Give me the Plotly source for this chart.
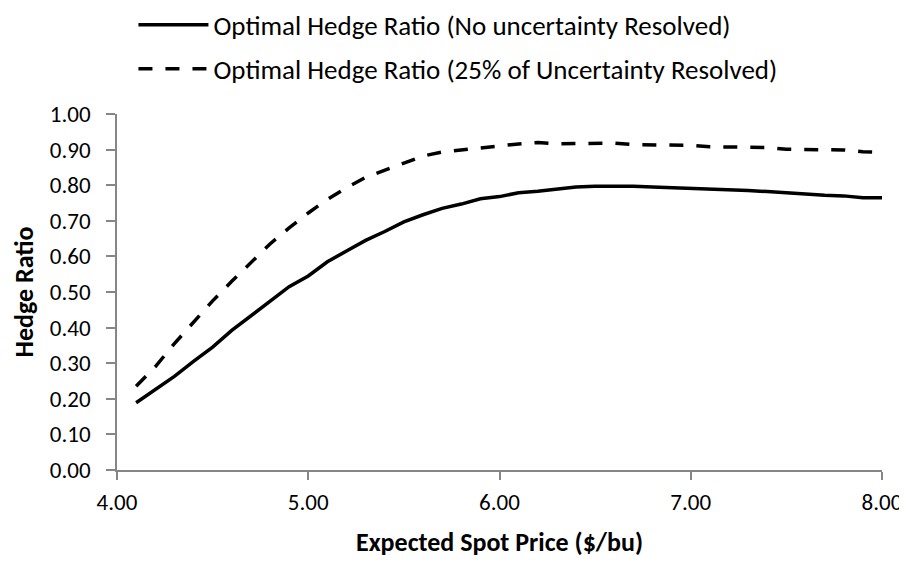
import plotly.graph_objects as go

# Expected spot price ($/bu)
price = [4.1, 4.2, 4.3, 4.4, 4.5, 4.6, 4.7, 4.8, 4.9, 5.0,
         5.1, 5.2, 5.3, 5.4, 5.5, 5.6, 5.7, 5.8, 5.9, 6.0,
         6.1, 6.2, 6.3, 6.4, 6.5, 6.6, 6.7, 6.8, 6.9, 7.0,
         7.1, 7.2, 7.3, 7.4, 7.5, 7.6, 7.7, 7.8, 7.9, 8.0]

# Optimal hedge ratio, no uncertainty resolved
hr_none = [0.189, 0.225, 0.263, 0.305, 0.345, 0.392, 0.432, 0.475, 0.515, 0.545,
           0.585, 0.615, 0.645, 0.670, 0.697, 0.717, 0.735, 0.747, 0.762, 0.768,
           0.779, 0.783, 0.790, 0.795, 0.797, 0.798, 0.797, 0.795, 0.793, 0.793,
           0.790, 0.788, 0.785, 0.782, 0.778, 0.776, 0.772, 0.770, 0.765, 0.765]

# Optimal hedge ratio, 25% of uncertainty resolved
hr_25 = [0.235, 0.290, 0.355, 0.415, 0.475, 0.530, 0.583, 0.635, 0.680, 0.722,
         0.760, 0.793, 0.822, 0.842, 0.863, 0.882, 0.893, 0.899, 0.905, 0.912,
         0.916, 0.920, 0.916, 0.917, 0.918, 0.918, 0.914, 0.913, 0.913, 0.912,
         0.908, 0.907, 0.907, 0.906, 0.901, 0.900, 0.900, 0.899, 0.894, 0.892]

x_ticks = [4, 5, 6, 7, 8]
x_tick_labels = ["4.00", "5.00", "6.00", "7.00", "8.00"]
y_ticks = [0.0, 0.1, 0.2, 0.3, 0.4, 0.5, 0.6, 0.7, 0.8, 0.9, 1.0]
y_tick_labels = ["0.00", "0.10", "0.20", "0.30", "0.40", "0.50", "0.60", "0.70", "0.80", "0.90", "1.00"]

FONT = "Calibri, Carlito, Lato, sans-serif"
AXIS_COLOR = "#868686"

fig = go.Figure()
fig.add_trace(go.Scatter(
    x=price, y=hr_none, mode="lines",
    name="Optimal Hedge Ratio (No uncertainty Resolved)",
    legendgroup="a",
    line=dict(color="black", width=3.5),
))
fig.add_trace(go.Scatter(
    x=price, y=hr_25, mode="lines",
    name="Optimal Hedge Ratio (25% of Uncertainty Resolved)",
    legendgroup="b",
    line=dict(color="black", width=3.5, dash="14px,13px"),
))

# The page body has an 8px margin, so the figure is sized to fill the rest of the window.
fig.update_layout(
    width=899, height=555,
    margin=dict(l=109, r=25, t=106, b=93, autoexpand=False),
    paper_bgcolor="white", plot_bgcolor="white",
    font=dict(family=FONT, color="black", size=23),
    showlegend=True,
    legend=dict(
        x=0.0215, y=1.1878, xanchor="left", yanchor="middle",
        font=dict(family=FONT, size=27, color="black"),
        itemwidth=70, tracegroupgap=6,
        bgcolor="rgba(0,0,0,0)",
    ),
    xaxis=dict(
        range=[4, 8], tickmode="array", tickvals=x_ticks, ticktext=x_tick_labels,
        showgrid=False, zeroline=False, automargin=False,
        showline=True, linecolor=AXIS_COLOR, linewidth=1.5,
        ticks="outside", ticklen=8, tickcolor=AXIS_COLOR, tickwidth=1.5,
        tickfont=dict(family=FONT, size=23, color="black"),
        ticklabelstandoff=3,
        title=dict(text="<b>Expected Spot Price ($/bu)</b>",
                   font=dict(family=FONT, size=26, color="black"), standoff=17),
    ),
    yaxis=dict(
        range=[0, 1], tickmode="array", tickvals=y_ticks, ticktext=y_tick_labels,
        showgrid=False, zeroline=False, automargin=False,
        showline=True, linecolor=AXIS_COLOR, linewidth=1.5,
        ticks="outside", ticklen=9, tickcolor=AXIS_COLOR, tickwidth=1.5,
        tickfont=dict(family=FONT, size=23, color="black"),
        ticklabelstandoff=11,
        title=dict(text="<b>Hedge Ratio</b>",
                   font=dict(family=FONT, size=26, color="black"), standoff=13),
    ),
)

fig.write_html("out.html")
